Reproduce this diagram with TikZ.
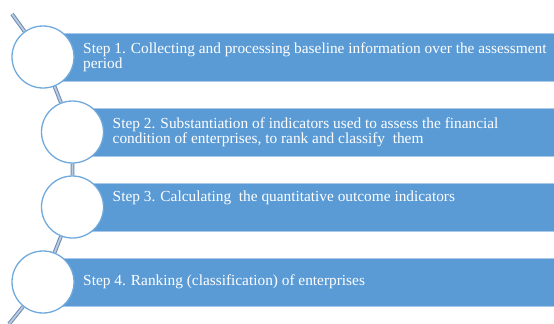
\documentclass[tikz,border=0pt]{standalone}
\usepackage{fontspec}
\setmainfont{Liberation Serif}
\usetikzlibrary{backgrounds,positioning}
\definecolor{stepblue}{HTML}{5B9BD5}
\definecolor{stepedge}{HTML}{A9C8EA}
\definecolor{ringblue}{HTML}{6FA8DC}
\definecolor{linkout}{HTML}{6F8DB3}
\definecolor{linkin}{HTML}{BCCDE2}

\begin{document}
\begin{tikzpicture}[
 box/.style={rectangle, draw=stepedge, line width=0.7pt, fill=stepblue, minimum height=1.44cm, anchor=west, inner sep=0pt},
 ring/.style={circle, draw=ringblue, line width=1.1pt, fill=white, minimum size=1.86cm, inner sep=0pt},
 txt/.style={text=white, align=left, inner sep=0pt, font={\fontsize{13.1}{10.6}\selectfont}},
 link/.style={draw=linkout, line width=0.9pt, double=linkin, double distance=1.5pt},
]
\useasboundingbox (0,0) rectangle (16.62,-9.69);
% bars
\node[box, minimum width=15.33cm] (box1) at (1.29,-1.71) {};
\node[box, minimum width=14.445cm] (box2) at (2.175,-3.96) {};
\node[box, minimum width=14.445cm] (box3) at (2.175,-6.21) {};
\node[box, minimum width=15.33cm] (box4) at (1.29,-8.46) {};
\node[txt, right=1.2cm of box1.west] (t1) {Step 1. Collecting and processing baseline information over the assessment\\period};
\node[txt, right=1.2cm of box2.west] (t2) {Step 2. Substantiation of indicators used to assess the financial\\condition of enterprises, to rank and classify~ them};
\node[txt, right=1.2cm of box3.west, yshift=0.29cm] (t3) {Step 3. Calculating~ the quantitative outcome indicators};
\node[txt, right=1.2cm of box4.west] (t4) {Step 4. Ranking (classification) of enterprises};
% circles
\node[ring] (s1) at (1.29,-1.71) {};
\node[ring] (s2) at (2.175,-3.96) {};
\node[ring] (s3) at (2.175,-6.21) {};
\node[ring] (s4) at (1.29,-8.46) {};
\coordinate (top) at (0.36,-0.42);
\coordinate (bot) at (0.27,-9.72);
\begin{scope}[on background layer]
\draw[link] (top) -- (s1) -- (s2) -- (s3) -- (s4) -- (bot);
\end{scope}
\end{tikzpicture}
\end{document}
